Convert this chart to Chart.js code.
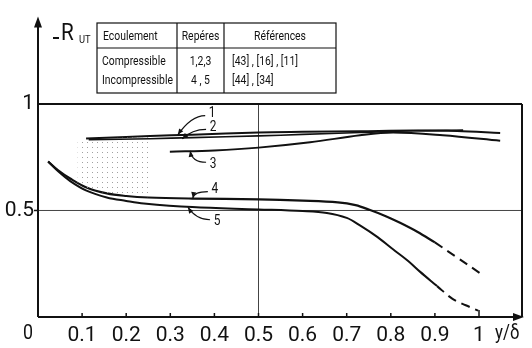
<!DOCTYPE html>
<html>
<head>
<meta charset="utf-8">
<script src="https://cdn.jsdelivr.net/npm/chart.js@4/dist/chart.umd.min.js"></script>
<style>
  html, body { margin: 0; padding: 0; background: #fff; }
  #wrap { width: 532px; height: 348px; }
</style>
</head>
<body>
<div id="wrap"><canvas id="graph"></canvas></div>
<script>
// tick values
const xTickValues = [0.1, 0.2, 0.3, 0.4, 0.5, 0.6, 0.7, 0.8, 0.9, 1];
const yTickValues = [0.5, 1];
const xMax = 1.0975;
const yMax = 1.41;

// compressible curves (repères 1, 2, 3)
const curve1 = [[0.109, 0.838], [0.2, 0.845], [0.254, 0.849], [0.35, 0.856], [0.5, 0.866], [0.6, 0.869],
                [0.73, 0.872], [0.85, 0.875], [0.95, 0.873], [1.048, 0.864]];
const curve2 = [[0.115, 0.832], [0.254, 0.837], [0.35, 0.842], [0.5, 0.85], [0.6, 0.857], [0.73, 0.866],
                [0.85, 0.874], [0.964, 0.877]];
const curve3 = [[0.299, 0.776], [0.4, 0.782], [0.5, 0.795], [0.617, 0.82], [0.73, 0.853], [0.805, 0.866],
                [0.918, 0.853], [1.048, 0.827]];

// incompressible curves (repères 4, 5), solid part then dashed extrapolation
const curve4 = [[0.023, 0.73], [0.045, 0.69], [0.073, 0.65], [0.11, 0.608], [0.156, 0.58], [0.2, 0.568],
                [0.25, 0.561], [0.35, 0.556], [0.5, 0.552], [0.6, 0.546], [0.68, 0.538], [0.72, 0.525],
                [0.753, 0.502], [0.79, 0.472], [0.821, 0.442], [0.86, 0.4], [0.9, 0.35]];
const curve4Dashed = [[0.9, 0.35], [0.95, 0.28], [1.002, 0.206]];
const curve5 = [[0.023, 0.73], [0.045, 0.685], [0.073, 0.638], [0.11, 0.593], [0.156, 0.561], [0.2, 0.545],
                [0.24, 0.533], [0.35, 0.516], [0.5, 0.505], [0.6, 0.497], [0.655, 0.488], [0.7, 0.465],
                [0.73, 0.43], [0.77, 0.375], [0.805, 0.318], [0.84, 0.262], [0.866, 0.213], [0.905, 0.145]];
const curve5Dashed = [[0.905, 0.145], [0.94, 0.085], [0.97, 0.055], [0.998, 0.03]];

// stippled zone between the curves
const stippleZone = [[0.09, 0.835], [0.255, 0.845], [0.255, 0.562], [0.2, 0.568], [0.156, 0.58],
                     [0.11, 0.608], [0.09, 0.63]];

// curve numbers: [label, label x, label y, arrow tip x, arrow tip y]
const curveTags = [['1', 0.395, 0.955, 0.317, 0.855], ['2', 0.397, 0.89, 0.327, 0.836],
                   ['3', 0.397, 0.717, 0.345, 0.78], ['4', 0.401, 0.598, 0.351, 0.558],
                   ['5', 0.406, 0.447, 0.34, 0.515]];

const tableHead = ['Ecoulement', 'Repéres', 'Références'];
const tableRows = [['Compressible', '1,2,3', '[43] , [16] , [11]'],
                   ['Incompressible', '4 , 5', '[44] , [34]']];

const FONT = "Roboto, 'Liberation Sans', sans-serif";
const INK = '#111';

const pts = a => a.map(p => ({x: p[0], y: p[1]}));

const dotCanvas = document.createElement('canvas');
dotCanvas.width = 5; dotCanvas.height = 5;
const dc = dotCanvas.getContext('2d');
dc.fillStyle = '#a0a0a0';
dc.fillRect(2, 2, 1, 1);
const stipple = dc.createPattern(dotCanvas, 'repeat');

function line(ctx, x1, y1, x2, y2) {
  ctx.beginPath(); ctx.moveTo(x1, y1); ctx.lineTo(x2, y2); ctx.stroke();
}

// condensed lettering: squeeze text horizontally
function narrowText(ctx, text, x, y, align, squeeze) {
  ctx.save();
  ctx.translate(x, y);
  ctx.scale(squeeze, 1);
  ctx.textAlign = align;
  ctx.fillText(text, 0, 0);
  ctx.restore();
}

function arrowHead(ctx, tx, ty, ang, len, half) {
  ctx.beginPath();
  ctx.moveTo(tx, ty);
  ctx.lineTo(tx - len * Math.cos(ang) + half * Math.sin(ang), ty - len * Math.sin(ang) - half * Math.cos(ang));
  ctx.lineTo(tx - len * Math.cos(ang) - half * Math.sin(ang), ty - len * Math.sin(ang) + half * Math.cos(ang));
  ctx.closePath();
  ctx.fill();
}

const framePlugin = {
  id: 'frame',
  beforeDatasetsDraw(chart) {
    const {ctx, scales: {x, y}} = chart;
    const X = v => x.getPixelForValue(v), Y = v => y.getPixelForValue(v);
    ctx.save();
    ctx.fillStyle = INK;
    ctx.lineWidth = 1;
    ctx.strokeStyle = '#444';
    line(ctx, X(0), Y(0.5), X(xMax), Y(0.5));
    line(ctx, X(0.5), Y(1), X(0.5), Y(0));
    ctx.strokeStyle = INK;
    ctx.lineWidth = 2;
    line(ctx, X(0), Y(1), X(xMax), Y(1));
    line(ctx, X(xMax), Y(1), X(xMax), Y(0));
    line(ctx, X(0), Y(0), X(xMax) - 4, Y(0));
    line(ctx, X(0), Y(0), X(0), y.top + 6);
    arrowHead(ctx, X(xMax) + 2, Y(0), 0, 11, 4);
    arrowHead(ctx, X(0), y.top, -Math.PI / 2, 11, 4);
    ctx.lineWidth = 1.5;
    xTickValues.forEach(v => line(ctx, X(v), Y(0), X(v), Y(0) - (v === 1 ? 7 : 4)));
    line(ctx, X(0) - 4, Y(0.5), X(0), Y(0.5));
    ctx.restore();
  },
  afterDatasetsDraw(chart) {
    const {ctx, scales: {x, y}} = chart;
    const X = v => x.getPixelForValue(v), Y = v => y.getPixelForValue(v);
    ctx.save();
    ctx.fillStyle = INK;
    ctx.strokeStyle = INK;

    // origin and axis titles
    ctx.font = '21px ' + FONT;
    ctx.textBaseline = 'middle';
    narrowText(ctx, '0', X(0) - 10, 334, 'center', 0.85);
    narrowText(ctx, 'y/δ', X(1.064), 334, 'center', 0.8);
    ctx.font = '23px ' + FONT;
    ctx.textBaseline = 'alphabetic';
    narrowText(ctx, 'R', 61, 40, 'left', 0.9);
    ctx.lineWidth = 2;
    line(ctx, 53, 38, 59, 38);
    ctx.font = '11px ' + FONT;
    narrowText(ctx, 'UT', 79, 43, 'left', 0.85);

    // legend table
    const tl = 97, tr = 336, tt = 23, tb = 93, c1 = 177, c2 = 224, hb = 48;
    ctx.lineWidth = 1.2;
    ctx.strokeRect(tl, tt, tr - tl, tb - tt);
    line(ctx, c1, tt, c1, tb);
    line(ctx, c2, tt, c2, tb);
    line(ctx, tl, hb, tr, hb);
    ctx.font = '13px ' + FONT;
    ctx.textBaseline = 'middle';
    const sq = 0.8;
    narrowText(ctx, tableHead[0], tl + 6, 37, 'left', sq);
    narrowText(ctx, tableHead[1], (c1 + c2) / 2, 37, 'center', sq);
    narrowText(ctx, tableHead[2], (c2 + tr) / 2, 37, 'center', sq);
    tableRows.forEach((r, i) => {
      const ry = 62 + i * 19;
      narrowText(ctx, r[0], tl + 5, ry, 'left', sq);
      narrowText(ctx, r[1], (c1 + c2) / 2, ry, 'center', sq);
      narrowText(ctx, r[2], c2 + 8, ry, 'left', sq);
    });

    // curve numbers with leader arrows
    ctx.font = '14px ' + FONT;
    ctx.lineWidth = 1.2;
    curveTags.forEach(t => {
      const lx = X(t[1]), ly = Y(t[2]), tx = X(t[3]), ty = Y(t[4]);
      narrowText(ctx, t[0], lx, ly, 'center', 0.85);
      const sx = lx - 7, sy = ly + (ty < ly ? -2 : 2);
      const cx = sx - 14, cy = sy;
      ctx.beginPath();
      ctx.moveTo(sx, sy);
      ctx.quadraticCurveTo(cx, cy, tx, ty);
      ctx.stroke();
      arrowHead(ctx, tx, ty, Math.atan2(ty - cy, tx - cx), 6, 2.5);
    });
    ctx.restore();
  }
};

const solid = (d, w) => ({data: pts(d), borderColor: INK, borderWidth: w, pointRadius: 0, showLine: true,
                          tension: 0.35, fill: false});
const dashed = d => Object.assign(solid(d, 2), {borderDash: [9, 6]});

new Chart(document.getElementById('graph'), {
  type: 'scatter',
  data: {
    datasets: [
      {data: pts(stippleZone), borderWidth: 0, borderColor: 'rgba(0,0,0,0)', backgroundColor: stipple,
       pointRadius: 0, showLine: true, fill: 'shape', tension: 0},
      solid(curve1, 2), solid(curve2, 1.6), solid(curve3, 2),
      solid(curve4, 2.2), dashed(curve4Dashed),
      solid(curve5, 2), dashed(curve5Dashed)
    ]
  },
  options: {
    responsive: true,
    maintainAspectRatio: false,
    animation: false,
    layout: {padding: {left: 0, right: 10, top: 8, bottom: 0}},
    plugins: {legend: {display: false}, tooltip: {enabled: false}},
    scales: {
      x: {
        type: 'linear', min: 0, max: xMax,
        afterBuildTicks: s => { s.ticks = xTickValues.map(v => ({value: v})); },
        afterFit: s => { s.height = 31; },
        grid: {display: false, drawTicks: false},
        border: {display: false},
        ticks: {autoSkip: false, maxRotation: 0, padding: 6, color: INK, font: {family: FONT, size: 21},
                callback: v => (v === 1 ? '1' : v.toFixed(1))}
      },
      y: {
        type: 'linear', min: 0, max: yMax,
        afterBuildTicks: s => { s.ticks = yTickValues.map(v => ({value: v})); },
        afterFit: s => { s.width = 38; },
        grid: {display: false, drawTicks: false},
        border: {display: false},
        ticks: {padding: 4, color: INK, font: {family: FONT, size: 21},
                callback: v => (v === 1 ? '1' : String(v))}
      }
    }
  },
  plugins: [framePlugin]
});
</script>
</body>
</html>
